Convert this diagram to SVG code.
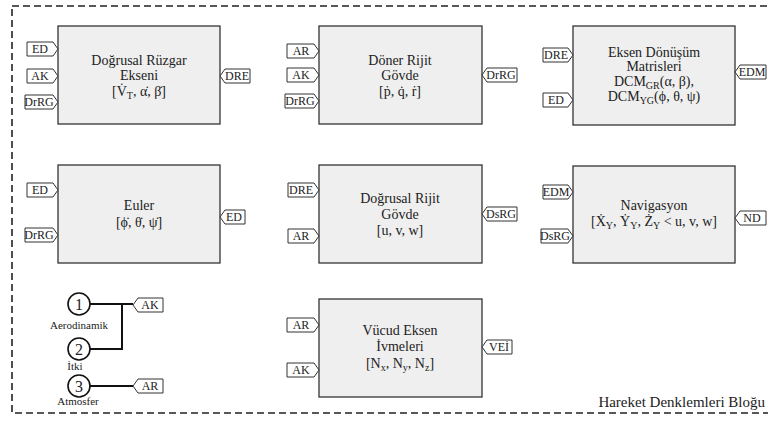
<svg xmlns="http://www.w3.org/2000/svg" width="768" height="421" viewBox="0 0 768 421">
<style>
text{font-family:"Liberation Serif","Times New Roman",serif;fill:#222}
.box{fill:#efefef;stroke:#333;stroke-width:1.3}
.tag{fill:#fff;stroke:#333;stroke-width:1}
.tt{font-size:12px;text-anchor:middle}
.bt{font-size:14px;text-anchor:middle}
.sub{font-size:10px}
.wire{fill:none;stroke:#111;stroke-width:2}
.circ{fill:#fff;stroke:#111;stroke-width:1.6}
.num{font-size:16px;text-anchor:middle}
.lbl{font-size:11px;text-anchor:middle}
</style>
<rect x="12" y="6" width="775" height="407" fill="none" stroke="#222" stroke-width="1.6" stroke-dasharray="7 4"/>

<g id="n-dogrusal-ruzgar">
<rect class="box" x="58" y="26" width="162" height="98"/>
<path class="tag" d="M27,42h26l5,7l-5,7h-26z"/><text class="tt" x="40" y="53">ED</text>
<path class="tag" d="M27,69h26l5,7l-5,7h-26z"/><text class="tt" x="40" y="80">AK</text>
<path class="tag" d="M25,95h28l5,7l-5,7h-28z"/><text class="tt" x="39" y="106">DrRG</text>
<path class="tag" d="M220,76l5,-7h25v14h-25z"/><text class="tt" x="237" y="80">DRE</text>
<text class="bt" x="139" y="65">Doğrusal Rüzgar</text>
<text class="bt" x="139" y="80">Ekseni</text>
<text class="bt" x="139" y="96">[V̇<tspan class="sub" dy="3">T</tspan><tspan dy="-3">, α̇, β̇]</tspan></text>
</g>

<g id="n-doner-rijit">
<rect class="box" x="319" y="26" width="163" height="98"/>
<path class="tag" d="M287,44h27l5,7l-5,7h-27z"/><text class="tt" x="301" y="55">AR</text>
<path class="tag" d="M287,68h27l5,7l-5,7h-27z"/><text class="tt" x="301" y="79">AK</text>
<path class="tag" d="M285,94h29l5,7l-5,7h-29z"/><text class="tt" x="300" y="105">DrRG</text>
<path class="tag" d="M482,75l5,-7h30v14h-30z"/><text class="tt" x="501" y="79">DrRG</text>
<text class="bt" x="400" y="65">Döner Rijit</text>
<text class="bt" x="400" y="80">Gövde</text>
<text class="bt" x="400" y="96">[ṗ, q̇, ṙ]</text>
</g>

<g id="n-eksen-donusum">
<rect class="box" x="573" y="26" width="162" height="99"/>
<path class="tag" d="M543,48h25l5,7l-5,7h-25z"/><text class="tt" x="556" y="59">DRE</text>
<path class="tag" d="M543,93h25l5,7l-5,7h-25z"/><text class="tt" x="556" y="104">ED</text>
<path class="tag" d="M735,72l5,-7h26v14h-26z"/><text class="tt" x="752" y="76">EDM</text>
<text class="bt" x="654" y="57">Eksen Dönüşüm</text>
<text class="bt" x="654" y="71">Matrisleri</text>
<text class="bt" x="654" y="86">DCM<tspan class="sub" dy="3">GR</tspan><tspan dy="-3">(α, β),</tspan></text>
<text class="bt" x="654" y="101">DCM<tspan class="sub" dy="3">YG</tspan><tspan dy="-3">(ϕ, θ, ψ)</tspan></text>
</g>

<g id="n-euler">
<rect class="box" x="58" y="165" width="162" height="98"/>
<path class="tag" d="M27,183h26l5,7l-5,7h-26z"/><text class="tt" x="40" y="194">ED</text>
<path class="tag" d="M25,228h28l5,7l-5,7h-28z"/><text class="tt" x="39" y="239">DrRG</text>
<path class="tag" d="M220,217l5,-7h20v14h-20z"/><text class="tt" x="234" y="221">ED</text>
<text class="bt" x="139" y="210">Euler</text>
<text class="bt" x="139" y="227">[ϕ̇, θ̇, ψ̇]</text>
</g>

<g id="n-dogrusal-rijit">
<rect class="box" x="319" y="165" width="163" height="98"/>
<path class="tag" d="M288,183h26l5,7l-5,7h-26z"/><text class="tt" x="301" y="194">DRE</text>
<path class="tag" d="M288,229h26l5,7l-5,7h-26z"/><text class="tt" x="301" y="240">AR</text>
<path class="tag" d="M482,214l5,-7h30v14h-30z"/><text class="tt" x="501" y="218">DsRG</text>
<text class="bt" x="400" y="203">Doğrusal Rijit</text>
<text class="bt" x="400" y="219">Gövde</text>
<text class="bt" x="400" y="235">[u, v, w]</text>
</g>

<g id="n-navigasyon">
<rect class="box" x="573" y="166" width="162" height="97"/>
<path class="tag" d="M543,185h25l5,7l-5,7h-25z"/><text class="tt" x="556" y="196">EDM</text>
<path class="tag" d="M541,229h27l5,7l-5,7h-27z"/><text class="tt" x="555" y="240">DsRG</text>
<path class="tag" d="M735,218l5,-7h26v14h-26z"/><text class="tt" x="752" y="222">ND</text>
<text class="bt" x="654" y="210">Navigasyon</text>
<text class="bt" x="654" y="226">[Ẋ<tspan class="sub" dy="3">Y</tspan><tspan dy="-3">, Ẏ</tspan><tspan class="sub" dy="3">Y</tspan><tspan dy="-3">, Ż</tspan><tspan class="sub" dy="3">Y</tspan><tspan dy="-3"> &lt; u, v, w]</tspan></text>
</g>

<g id="n-vucud-eksen">
<rect class="box" x="319" y="299" width="163" height="98"/>
<path class="tag" d="M287,318h27l5,7l-5,7h-27z"/><text class="tt" x="301" y="329">AR</text>
<path class="tag" d="M287,363h27l5,7l-5,7h-27z"/><text class="tt" x="301" y="374">AK</text>
<path class="tag" d="M482,347l5,-7h25v14h-25z"/><text class="tt" x="499" y="351">VEİ</text>
<text class="bt" x="400" y="335">Vücud Eksen</text>
<text class="bt" x="400" y="351">İvmeleri</text>
<text class="bt" x="400" y="368">[N<tspan class="sub" dy="3">x</tspan><tspan dy="-3">, N</tspan><tspan class="sub" dy="3">y</tspan><tspan dy="-3">, N</tspan><tspan class="sub" dy="3">z</tspan><tspan dy="-3">]</tspan></text>
</g>

<g id="connectors">
<path class="wire" d="M90,304H133M122,304V349H90M90,386H133"/>
</g>

<g id="n-aerodinamik">
<circle class="circ" cx="79" cy="304" r="11"/><text class="num" x="79" y="309.5">1</text>
<text class="lbl" x="79" y="329">Aerodinamik</text>
</g>
<g id="n-itki">
<circle class="circ" cx="79" cy="349" r="11"/><text class="num" x="79" y="354.5">2</text>
<text class="lbl" x="75" y="370">İtki</text>
</g>
<g id="n-atmosfer">
<circle class="circ" cx="79" cy="386" r="11"/><text class="num" x="79" y="391.5">3</text>
<text class="lbl" x="78" y="405">Atmosfer</text>
</g>
<g id="n-ak">
<path class="tag" d="M133,305l5,-7h25v14h-25z"/><text class="tt" x="150" y="309">AK</text>
</g>
<g id="n-ar">
<path class="tag" d="M133,386l5,-7h25v14h-25z"/><text class="tt" x="150" y="390">AR</text>
</g>

<text x="765" y="407" font-size="15" text-anchor="end">Hareket Denklemleri Bloğu</text>
</svg>
